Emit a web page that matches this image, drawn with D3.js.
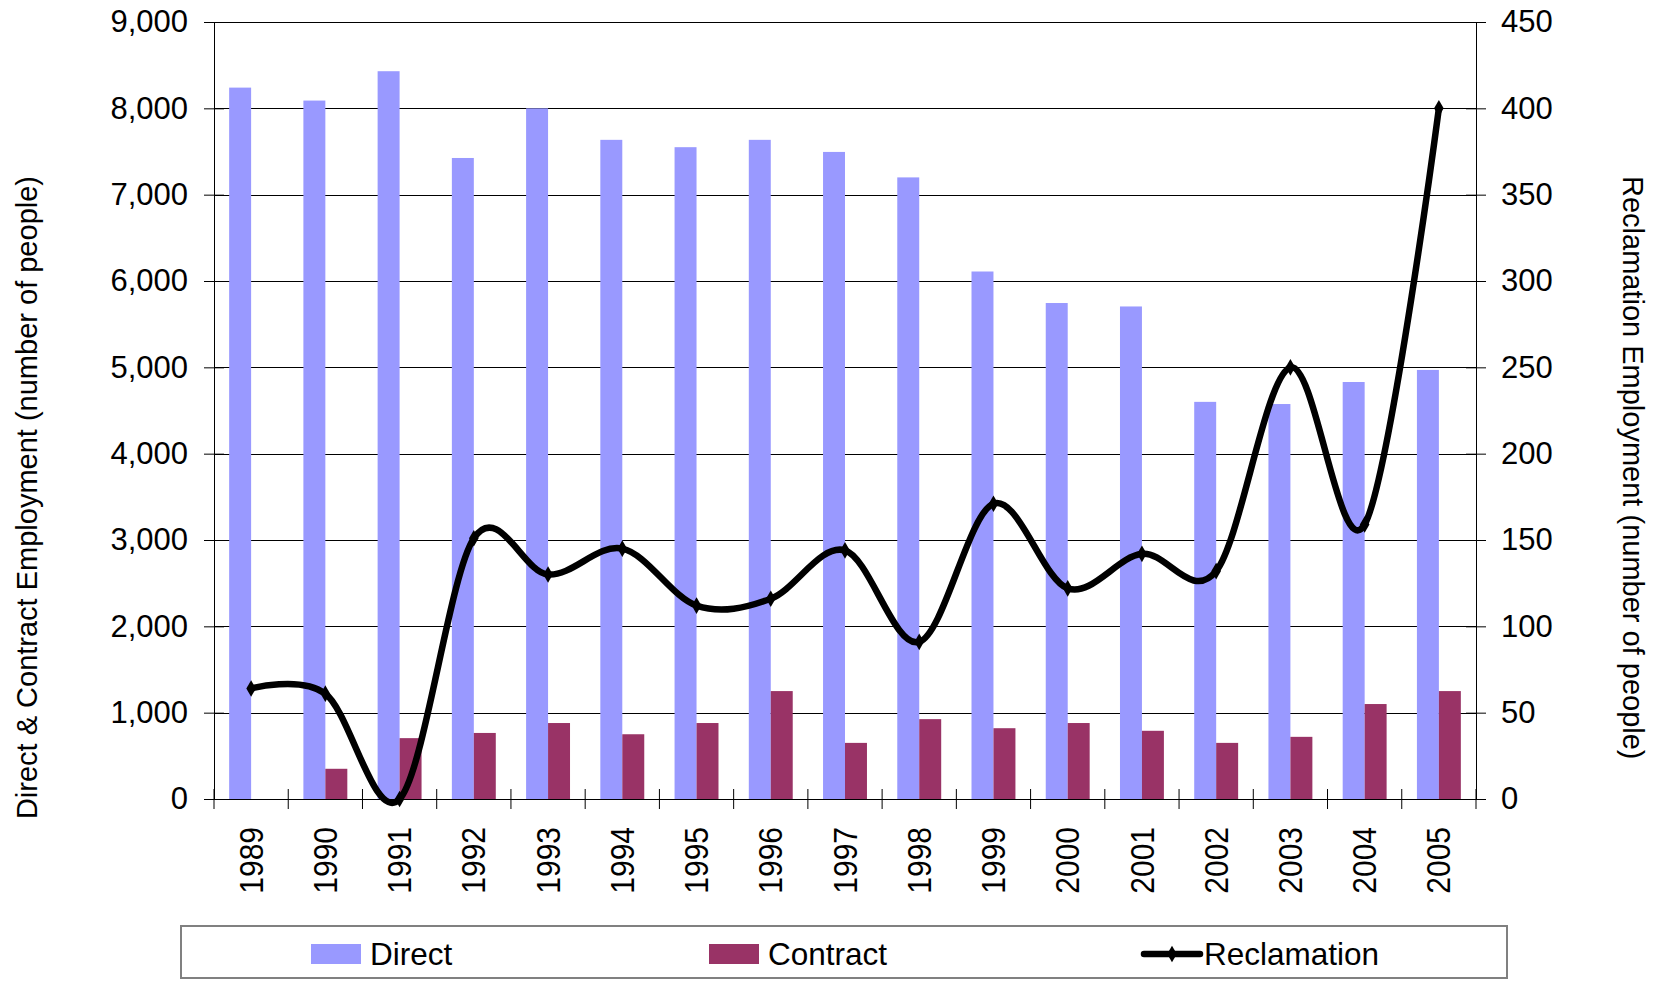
<!DOCTYPE html>
<html>
<head>
<meta charset="utf-8">
<script src="https://cdn.jsdelivr.net/npm/d3@7"></script>
<style>
  body { margin: 0; background: #fff; }
  svg text { font-family: "Liberation Sans", Arial, sans-serif; fill: #000; }
</style>
</head>
<body>
<div id="chart"></div>
<script>
// values
var years = ["1989","1990","1991","1992","1993","1994","1995","1996","1997","1998","1999","2000","2001","2002","2003","2004","2005"];
var direct = [8240, 8090, 8430, 7425, 8000, 7635, 7550, 7635, 7495, 7200, 6110, 5745, 5705, 4600, 4575, 4830, 4970];
var contract = [0, 350, 705, 765, 880, 750, 880, 1250, 650, 925, 820, 880, 790, 650, 720, 1100, 1250];
var reclamation = [64, 61, 0, 151, 130, 145, 112, 116, 144, 91, 171, 122, 142, 132, 250, 159, 400];
var leftTicks = [0, 1000, 2000, 3000, 4000, 5000, 6000, 7000, 8000, 9000];
var rightTicks = [0, 50, 100, 150, 200, 250, 300, 350, 400, 450];
var seriesNames = ["Direct", "Contract", "Reclamation"];
var colors = {Direct: "#9999ff", Contract: "#993366", Reclamation: "#000000"};

var W = 1669, H = 981;
var margin = {top: 22, left: 214, right: 193, bottom: 182},
    width = W - margin.left - margin.right,   // 1262
    height = H - margin.top - margin.bottom;  // 777

var svg = d3.select("#chart").append("svg")
    .attr("width", W).attr("height", H);

var g = svg.append("g")
    .attr("transform", "translate(" + margin.left + "," + margin.top + ")");

// scales
var x = d3.scaleBand().domain(years).range([0, width]).padding(0);
var xs = d3.scaleBand().domain(["Direct", "Contract"]).range([0, x.bandwidth()]).paddingInner(0).paddingOuter(0.69);
var y = d3.scaleLinear().domain([0, 9000]).range([height, 0]);
var y2 = d3.scaleLinear().domain([0, 450]).range([height, 0]);

// gridlines
g.append("g")
  .selectAll("line")
  .data(leftTicks)
  .enter().append("line")
    .attr("x1", 0).attr("x2", width)
    .attr("y1", function(d) { return Math.round(y(d)) + 0.5; })
    .attr("y2", function(d) { return Math.round(y(d)) + 0.5; })
    .attr("stroke", "#000").attr("stroke-width", 1);

// bars
var rows = years.map(function(yr, i) {
  return {year: yr, Direct: direct[i], Contract: contract[i]};
});
g.append("g")
  .selectAll("g")
  .data(rows)
  .enter().append("g")
    .attr("transform", function(d) { return "translate(" + x(d.year) + ",0)"; })
  .selectAll("rect")
  .data(function(d) { return ["Direct", "Contract"].map(function(k) { return {key: k, value: d[k]}; }); })
  .enter().append("rect")
    .attr("x", function(d) { return xs(d.key); })
    .attr("width", xs.bandwidth())
    .attr("y", function(d) { return y(d.value); })
    .attr("height", function(d) { return height - y(d.value); })
    .attr("fill", function(d) { return colors[d.key]; });

// left axis
var axL = g.append("g")
    .call(d3.axisLeft(y).tickValues(leftTicks).tickFormat(d3.format(",")).tickSizeOuter(0).tickSize(10).tickPadding(16));
axL.selectAll(".tick line").attr("x2", -10).attr("x1", 10);
axL.selectAll("text").style("font-size", "31px");
axL.select(".domain").attr("stroke", "#000");

// right axis
var axR = g.append("g")
    .attr("transform", "translate(" + width + ",0)")
    .call(d3.axisRight(y2).tickValues(rightTicks).tickSizeOuter(0).tickSize(10).tickPadding(15));
axR.selectAll(".tick line").attr("x1", -10).attr("x2", 10);
axR.selectAll("text").style("font-size", "31px");

// bottom axis (labels) + cross ticks at category edges
var axB = g.append("g")
    .attr("transform", "translate(0," + height + ")")
    .call(d3.axisBottom(x).tickSize(0).tickSizeOuter(0).tickPadding(0));
axB.select(".domain").attr("stroke", "#000");
axB.selectAll("text")
    .style("font-size", "30px")
    .attr("text-anchor", "end")
    .attr("transform", "translate(0,28) rotate(-90) scale(1,1.1)")
    .attr("dy", "0.35em")
    .attr("x", 0).attr("y", 0);
var edges = years.map(function(d) { return x(d); }).concat([width]);
axB.selectAll("line.edge")
  .data(edges)
  .enter().append("line")
    .attr("class", "edge")
    .attr("x1", function(d) { return d; }).attr("x2", function(d) { return d; })
    .attr("y1", -10).attr("y2", 10)
    .attr("stroke", "#000");

// reclamation line
var line = d3.line()
    .x(function(d, i) { return x(years[i]) + x.bandwidth() / 2; })
    .y(function(d) { return y2(d); })
    .curve(d3.curveCardinal.tension(0));
g.append("path")
    .datum(reclamation)
    .attr("d", line)
    .attr("fill", "none")
    .attr("stroke", "#000")
    .attr("stroke-width", 6.5);
g.append("g")
  .selectAll("path")
  .data(reclamation)
  .enter().append("path")
    .attr("transform", function(d, i) { return "translate(" + (x(years[i]) + x.bandwidth() / 2) + "," + y2(d) + ")"; })
    .attr("d", d3.symbol().type(d3.symbolDiamond).size(80))
    .attr("fill", "#000");

// axis titles
svg.append("text")
    .attr("transform", "translate(27,176) rotate(-90)")
    .attr("text-anchor", "end")
    .attr("dy", "0.35em")
    .style("font-size", "29px")
    .text("Direct & Contract Employment (number of people)");
svg.append("text")
    .attr("transform", "translate(1633,176) rotate(90)")
    .attr("text-anchor", "start")
    .attr("dy", "0.35em")
    .style("font-size", "29px")
    .text("Reclamation Employment (number of people)");

// legend
var legend = svg.append("g");
legend.append("rect")
    .attr("x", 181).attr("y", 926).attr("width", 1326).attr("height", 52)
    .attr("fill", "#fff").attr("stroke", "#808080").attr("stroke-width", 2);
var legX = [311, 709, 1144];
seriesNames.forEach(function(name, i) {
  var lg = legend.append("g").attr("transform", "translate(" + legX[i] + ",954)");
  if (name === "Reclamation") {
    lg.append("line").attr("x1", 0).attr("x2", 56).attr("y1", 0).attr("y2", 0)
      .attr("stroke", "#000").attr("stroke-width", 6.5).attr("stroke-linecap", "round");
    lg.append("path").attr("transform", "translate(28,0)")
      .attr("d", d3.symbol().type(d3.symbolDiamond).size(80)).attr("fill", "#000");
  } else {
    lg.append("rect").attr("x", 0).attr("y", -10).attr("width", 50).attr("height", 20)
      .attr("fill", colors[name]);
  }
  lg.append("text")
    .attr("x", name === "Reclamation" ? 60 : 59)
    .attr("y", 11)
    .style("font-size", "31.5px")
    .text(name);
});
</script>
</body>
</html>
